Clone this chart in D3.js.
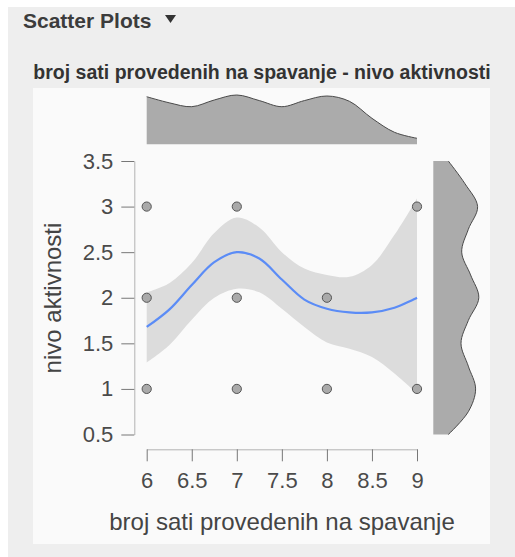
<!DOCTYPE html>
<html>
<head>
<meta charset="utf-8">
<script src="https://cdn.jsdelivr.net/npm/d3@7"></script>
<style>
  html, body { margin: 0; padding: 0; background: #ffffff; }
  svg { display: block; }
  text { font-family: "Liberation Sans", Arial, sans-serif; }
</style>
</head>
<body>
<svg id="chart" width="515" height="557"></svg>
<script>
// ---- data ----
const pointsX = [6, 6, 6, 7, 7, 7, 8, 8, 9, 9];
const pointsY = [3, 2, 1, 3, 2, 1, 2, 1, 3, 1];

const smoothX     = [6, 6.25, 6.5, 6.75, 7, 7.25, 7.5, 7.75, 8, 8.25, 8.5, 8.75, 9];
const smoothY     = [1.68, 1.87, 2.14, 2.39, 2.50, 2.43, 2.20, 1.98, 1.88, 1.84, 1.84, 1.89, 2.00];
const smoothUpper = [2.06, 2.16, 2.38, 2.71, 2.88, 2.77, 2.50, 2.32, 2.25, 2.23, 2.36, 2.69, 3.09];
const smoothLower = [1.29, 1.48, 1.76, 2.00, 2.10, 2.06, 1.88, 1.68, 1.51, 1.44, 1.35, 1.17, 0.95];

const topDensX = [6, 6.25, 6.5, 6.75, 7, 7.25, 7.5, 7.75, 8, 8.25, 8.5, 8.75, 9];
const topDens  = [0.476, 0.415, 0.376, 0.443, 0.493, 0.437, 0.376, 0.437, 0.483, 0.43, 0.26, 0.12, 0.06];

const rightDensY = [0.5, 0.75, 1, 1.25, 1.5, 1.75, 2, 2.25, 2.5, 2.75, 3, 3.25, 3.5];
const rightDens  = [0.15, 0.35, 0.423, 0.35, 0.277, 0.35, 0.455, 0.373, 0.284, 0.35, 0.443, 0.317, 0.15];

const xTicks = [6, 6.5, 7, 7.5, 8, 8.5, 9];
const yTicks = [0.5, 1, 1.5, 2, 2.5, 3, 3.5];

const headerTitle = "Scatter Plots";
const plotTitle = "broj sati provedenih na spavanje - nivo aktivnosti";
const xLabel = "broj sati provedenih na spavanje";
const yLabel = "nivo aktivnosti";

// ---- drawing ----
const svg = d3.select("#chart");
const curve = d3.curveCatmullRom.alpha(0.5);

// outer grey panel
svg.append("rect").attr("x", 8).attr("y", 7).attr("width", 507).attr("height", 550).attr("fill", "#eeeeee");
// chart panel
svg.append("rect").attr("x", 33).attr("y", 88).attr("width", 457).attr("height", 456).attr("fill", "#fafafa");

// header
svg.append("text").attr("x", 23).attr("y", 27.5)
  .attr("font-size", 21).attr("font-weight", "bold").attr("fill", "#3c3c3c")
  .text(headerTitle);
svg.append("path")
  .attr("d", "M165,15 L176,15 L170.5,23 Z")
  .attr("fill", "#333");

svg.append("text").attr("x", 262).attr("y", 79)
  .attr("text-anchor", "middle")
  .attr("font-size", 19.5).attr("font-weight", "bold").attr("fill", "#333")
  .text(plotTitle);

const x = d3.scaleLinear().domain([6, 9]).range([146.7, 417]);
const y = d3.scaleLinear().domain([0.5, 3.5]).range([434.5, 161]);

// top marginal density
const topScale = d3.scaleLinear().domain([0, 0.5]).range([144.3, 94.3]);
const topData = topDensX.map((d, i) => [d, topDens[i]]);
svg.append("path")
  .datum(topData)
  .attr("fill", "#ababab")
  .attr("d", d3.area().x(d => x(d[0])).y0(topScale(0)).y1(d => topScale(d[1])).curve(curve));
svg.append("path")
  .datum(topData)
  .attr("fill", "none").attr("stroke", "#4a4a4a").attr("stroke-width", 1)
  .attr("d", d3.line().x(d => x(d[0])).y(d => topScale(d[1])).curve(curve));

// right marginal density
const rightScale = d3.scaleLinear().domain([0, 0.5]).range([433.3, 483.3]);
const rightData = rightDensY.map((d, i) => [d, rightDens[i]]);
svg.append("path")
  .datum(rightData)
  .attr("fill", "#ababab")
  .attr("d", d3.area().y(d => y(d[0])).x0(rightScale(0)).x1(d => rightScale(d[1])).curve(curve));
svg.append("path")
  .datum(rightData)
  .attr("fill", "none").attr("stroke", "#4a4a4a").attr("stroke-width", 1)
  .attr("d", d3.line().y(d => y(d[0])).x(d => rightScale(d[1])).curve(curve));

// axes
const yAxis = svg.append("g")
  .attr("transform", "translate(134.3,0)")
  .call(d3.axisLeft(y).tickValues(yTicks).tickSize(13).tickSizeOuter(0).tickPadding(8).tickFormat(d3.format("")));
const xAxis = svg.append("g")
  .attr("transform", "translate(0,449.3)")
  .call(d3.axisBottom(x).tickValues(xTicks).tickSize(12).tickSizeOuter(0).tickPadding(6).tickFormat(d3.format("")));

[yAxis, xAxis].forEach(g => {
  g.select(".domain").attr("stroke", "#b3b3b3").attr("stroke-width", 1);
  g.selectAll(".tick line").attr("stroke", "#777").attr("stroke-width", 1);
  g.selectAll(".tick text")
    .attr("font-size", 22).attr("fill", "#4a4a4a")
    .attr("font-family", "'Liberation Sans', Arial, sans-serif");
});
xAxis.selectAll(".tick text").attr("dy", null).attr("y", 38.7);

// confidence band
const bandData = smoothX.map((d, i) => [d, smoothLower[i], smoothUpper[i], smoothY[i]]);
svg.append("path")
  .datum(bandData)
  .attr("fill", "#dcdcdc")
  .attr("d", d3.area().x(d => x(d[0])).y0(d => y(d[1])).y1(d => y(d[2])).curve(curve));

// smooth line
svg.append("path")
  .datum(bandData)
  .attr("fill", "none").attr("stroke", "#5b8cf6").attr("stroke-width", 2.2)
  .attr("d", d3.line().x(d => x(d[0])).y(d => y(d[3])).curve(curve));

// points
svg.append("g").selectAll("circle")
  .data(pointsX.map((d, i) => [d, pointsY[i]]))
  .join("circle")
  .attr("cx", d => x(d[0])).attr("cy", d => y(d[1]))
  .attr("r", 4.6)
  .attr("fill", "#aaaaaa").attr("stroke", "#555").attr("stroke-width", 1);

// axis titles
svg.append("text")
  .attr("x", 282).attr("y", 530)
  .attr("text-anchor", "middle")
  .attr("font-size", 24).attr("fill", "#444")
  .text(xLabel);
svg.append("text")
  .attr("transform", "translate(61,298) rotate(-90)")
  .attr("text-anchor", "middle")
  .attr("font-size", 24).attr("fill", "#444")
  .text(yLabel);
</script>
</body>
</html>
